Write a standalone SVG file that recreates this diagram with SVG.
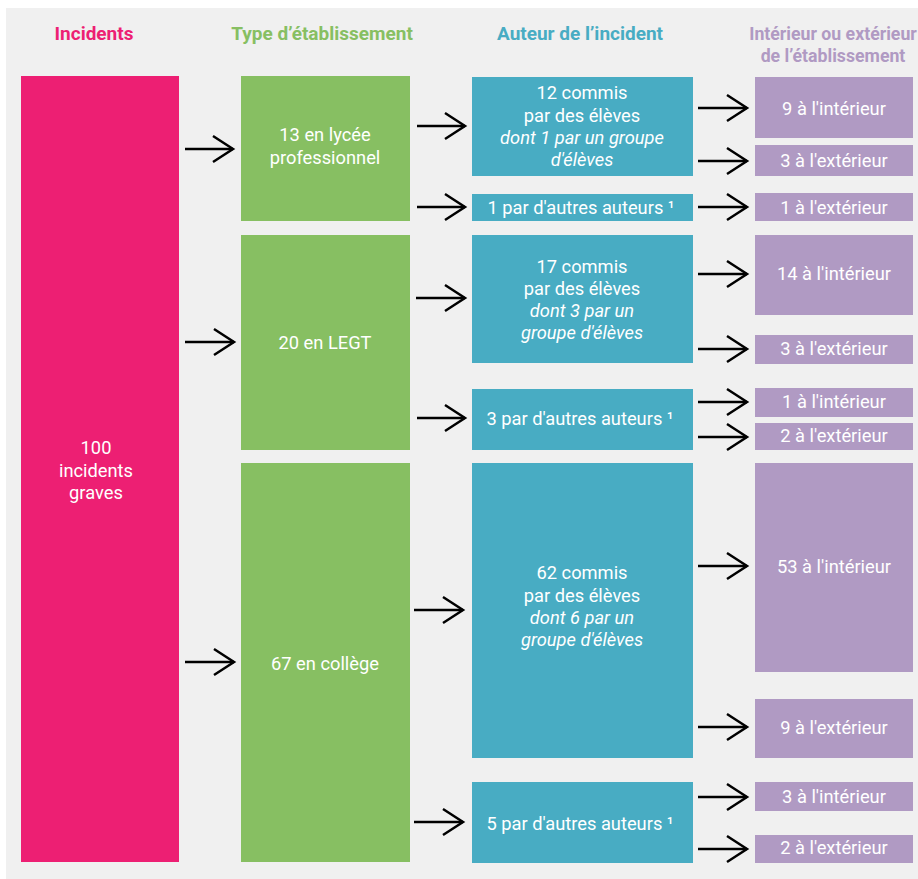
<svg xmlns="http://www.w3.org/2000/svg" width="918" height="879" viewBox="0 0 918 879">
<defs>
<style>
.hd{font-family:Roboto,"Liberation Sans",sans-serif;font-weight:bold;font-size:19px;text-anchor:middle}
.hs{font-size:17.7px}
.t{font-family:Roboto,"Liberation Sans",sans-serif;font-size:18.3px;fill:#fff;text-anchor:middle}
.it{font-style:italic}
.pk{fill:#ED1F73}
.gr{fill:#87BF62}
.tl{fill:#48ACC3}
.pu{fill:#B09AC3}
.ar{stroke:#000;stroke-width:2.5;fill:none;marker-end:url(#chev)}
</style>
<marker id="chev" markerUnits="userSpaceOnUse" viewBox="-23 -16 26 32" refX="0" refY="0" markerWidth="26" markerHeight="32" orient="auto" overflow="visible">
<path d="M-20,-13 L0,0 L-20,13" stroke="#000" stroke-width="2.5" fill="none"/>
</marker>
</defs>
<rect x="0" y="0" width="918" height="879" fill="#fff"/>
<rect x="6" y="8" width="912" height="871" fill="#F0F0F0"/>

<g id="headers">
<text class="hd pk" x="94" y="40">Incidents</text>
<text class="hd gr" x="322" y="40">Type d’établissement</text>
<text class="hd tl" x="580" y="40">Auteur de l’incident</text>
<text class="hd hs pu" x="833" y="40">Intérieur ou extérieur</text>
<text class="hd hs pu" x="833" y="62">de l’établissement</text>
</g>

<g id="n-incidents">
<rect class="pk" x="21" y="76" width="158" height="786"/>
<text class="t" x="96" y="454">100</text>
<text class="t" x="96" y="477">incidents</text>
<text class="t" x="96" y="499">graves</text>
</g>

<g id="n-lp">
<rect class="gr" x="241" y="76" width="169" height="145"/>
<text class="t" x="325" y="141">13 en lycée</text>
<text class="t" x="325" y="164">professionnel</text>
</g>
<g id="n-legt">
<rect class="gr" x="241" y="235" width="169" height="215"/>
<text class="t" x="325" y="349">20 en LEGT</text>
</g>
<g id="n-college">
<rect class="gr" x="241" y="463" width="169" height="399"/>
<text class="t" x="325" y="670">67 en collège</text>
</g>

<g id="n-lp-eleves">
<rect class="tl" x="472" y="77" width="221" height="99"/>
<text class="t" x="582" y="99">12 commis</text>
<text class="t" x="582" y="121.5">par des élèves</text>
<text class="t it" x="582" y="143.5">dont 1 par un groupe</text>
<text class="t it" x="582" y="165.5">d'élèves</text>
</g>
<g id="n-lp-autres">
<rect class="tl" x="472" y="194" width="221" height="27"/>
<text class="t" x="581" y="213.5">1 par d'autres auteurs ¹</text>
</g>
<g id="n-legt-eleves">
<rect class="tl" x="472" y="235" width="221" height="128"/>
<text class="t" x="582" y="273">17 commis</text>
<text class="t" x="582" y="295">par des élèves</text>
<text class="t it" x="582" y="317">dont 3 par un</text>
<text class="t it" x="582" y="339">groupe d'élèves</text>
</g>
<g id="n-legt-autres">
<rect class="tl" x="472" y="389" width="221" height="61"/>
<text class="t" x="580" y="425">3 par d'autres auteurs ¹</text>
</g>
<g id="n-college-eleves">
<rect class="tl" x="472" y="463" width="221" height="295"/>
<text class="t" x="582" y="579">62 commis</text>
<text class="t" x="582" y="601.5">par des élèves</text>
<text class="t it" x="582" y="624">dont 6 par un</text>
<text class="t it" x="582" y="646">groupe d'élèves</text>
</g>
<g id="n-college-autres">
<rect class="tl" x="472" y="782" width="221" height="81"/>
<text class="t" x="580" y="830">5 par d'autres auteurs ¹</text>
</g>

<g id="p1"><rect class="pu" x="755" y="77" width="158" height="61"/><text class="t" x="834" y="115">9 à l'intérieur</text></g>
<g id="p2"><rect class="pu" x="755" y="145" width="158" height="31"/><text class="t" x="834" y="167">3 à l'extérieur</text></g>
<g id="p3"><rect class="pu" x="755" y="193" width="158" height="28"/><text class="t" x="834" y="213.5">1 à l'extérieur</text></g>
<g id="p4"><rect class="pu" x="755" y="235" width="158" height="80"/><text class="t" x="834" y="280">14 à l'intérieur</text></g>
<g id="p5"><rect class="pu" x="755" y="335" width="158" height="29"/><text class="t" x="834" y="355">3 à l'extérieur</text></g>
<g id="p6"><rect class="pu" x="755" y="388" width="158" height="29"/><text class="t" x="834" y="408">1 à l'intérieur</text></g>
<g id="p7"><rect class="pu" x="755" y="423" width="158" height="27"/><text class="t" x="834" y="442">2 à l'extérieur</text></g>
<g id="p8"><rect class="pu" x="755" y="463" width="158" height="209"/><text class="t" x="834" y="573">53 à l'intérieur</text></g>
<g id="p9"><rect class="pu" x="755" y="699" width="158" height="59"/><text class="t" x="834" y="734">9 à l'extérieur</text></g>
<g id="p10"><rect class="pu" x="755" y="782" width="158" height="29"/><text class="t" x="834" y="803">3 à l'intérieur</text></g>
<g id="p11"><rect class="pu" x="755" y="835" width="158" height="28"/><text class="t" x="834" y="854">2 à l'extérieur</text></g>

<g id="connectors">
<line class="ar" x1="185" y1="149" x2="233" y2="149"/>
<line class="ar" x1="185" y1="342" x2="234" y2="342"/>
<line class="ar" x1="185" y1="662" x2="234" y2="662"/>
<line class="ar" x1="417" y1="126" x2="465" y2="126"/>
<line class="ar" x1="417" y1="207" x2="465" y2="207"/>
<line class="ar" x1="416" y1="298" x2="465" y2="298"/>
<line class="ar" x1="417" y1="418" x2="465" y2="418"/>
<line class="ar" x1="414" y1="610" x2="463" y2="610"/>
<line class="ar" x1="414" y1="822" x2="463" y2="822"/>
<line class="ar" x1="698" y1="108" x2="747" y2="108"/>
<line class="ar" x1="698" y1="161" x2="747" y2="161"/>
<line class="ar" x1="698" y1="207" x2="747" y2="207"/>
<line class="ar" x1="698" y1="274" x2="747" y2="274"/>
<line class="ar" x1="698" y1="349" x2="747" y2="349"/>
<line class="ar" x1="698" y1="402" x2="747" y2="402"/>
<line class="ar" x1="698" y1="437" x2="747" y2="437"/>
<line class="ar" x1="698" y1="566" x2="747" y2="566"/>
<line class="ar" x1="698" y1="727" x2="747" y2="727"/>
<line class="ar" x1="698" y1="797" x2="747" y2="797"/>
<line class="ar" x1="698" y1="849" x2="747" y2="849"/>
</g>
</svg>
